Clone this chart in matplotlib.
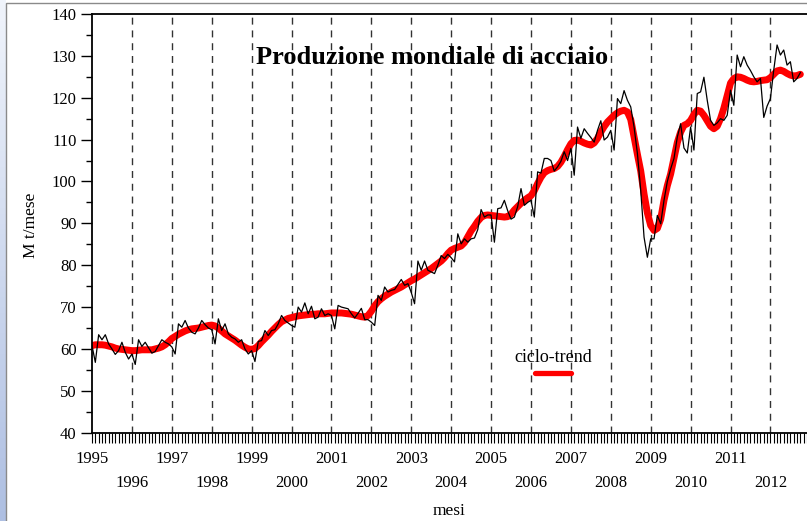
import numpy as np
import matplotlib
matplotlib.use("Agg")
from matplotlib import pyplot as plt
from matplotlib.patches import Rectangle

plt.rcParams['font.family'] = ['Liberation Serif', 'DejaVu Serif']

## Data ##
# monthly world steel output, Mt/month, from Jan 1995
START_YEAR = 1995
raw = [
    60.8, 56.8, 63.4, 62.2, 63.4, 61.2, 60.0, 58.7, 59.6, 61.6, 59.2, 57.6,   # 1995
    58.8, 56.3, 62.2, 60.6, 61.6, 60.3, 59.0, 59.4, 60.8, 62.2, 61.6, 61.2,   # 1996
    60.5, 58.8, 66.0, 65.2, 66.8, 65.0, 64.0, 63.6, 65.0, 66.8, 65.8, 65.0,   # 1997
    64.6, 61.2, 67.2, 64.4, 66.0, 63.6, 62.8, 62.4, 61.6, 62.2, 60.0, 58.8,   # 1998
    59.6, 57.0, 61.8, 62.0, 64.4, 63.2, 64.4, 64.6, 66.0, 68.0, 66.8, 66.2,   # 1999
    65.6, 65.2, 70.0, 68.8, 71.0, 68.4, 70.2, 67.2, 67.6, 69.6, 68.0, 68.4,   # 2000
    68.0, 64.8, 70.4, 70.0, 69.8, 69.6, 68.4, 67.4, 68.5, 69.7, 67.0, 67.0,   # 2001
    66.4, 65.6, 72.8, 71.6, 74.8, 73.6, 74.0, 74.2, 75.4, 76.6, 75.2, 75.6,   # 2002
    73.5, 70.8, 81.0, 78.8, 81.0, 78.8, 78.4, 78.0, 80.0, 82.3, 81.6, 82.6,   # 2003
    81.8, 80.8, 87.5, 85.1, 86.3, 85.5, 86.3, 86.5, 88.5, 93.3, 91.5, 92.0,   # 2004
    92.0, 85.5, 93.5, 93.7, 95.5, 93.0, 91.0, 91.5, 94.0, 98.3, 94.3, 95.0,   # 2005
    95.5, 91.5, 102.3, 102.0, 105.5, 105.5, 105.0, 102.5, 103.5, 104.8, 107.1, 105.0,  # 2006
    107.9, 101.5, 113.0, 110.3, 112.6, 111.5, 110.5, 109.4, 112.2, 114.5, 109.9, 110.6,  # 2007
    112.2, 107.5, 119.8, 118.6, 121.7, 119.4, 117.8, 113.0, 106.7, 97.9, 86.7, 81.9,   # 2008
    86.3, 86.3, 91.9, 89.9, 95.5, 100.0, 103.0, 105.5, 110.6, 113.8, 108.0, 106.8,    # 2009
    113.0, 107.5, 121.0, 121.4, 124.9, 119.4, 114.6, 113.4, 114.0, 115.0, 114.6, 115.8,  # 2010
    121.8, 118.2, 130.2, 127.4, 129.8, 127.8, 126.5, 125.0, 123.8, 124.6, 115.3, 118.0,  # 2011
    119.8, 126.6, 132.6, 130.2, 131.4, 127.8, 128.6, 123.8, 124.6, 126.0,              # 2012
]
trend = [
    60.8, 61.0, 61.0, 61.0, 60.9, 60.7, 60.5, 60.2, 60.0, 59.9, 59.8, 59.7,   # 1995
    59.6, 59.6, 59.7, 59.8, 59.8, 59.8, 59.8, 60.0, 60.2, 60.5, 61.0, 61.7,   # 1996
    62.5, 63.0, 63.5, 63.9, 64.3, 64.6, 64.8, 64.9, 65.0, 65.2, 65.4, 65.6,   # 1997
    65.7, 65.5, 65.0, 64.3, 63.6, 63.1, 62.6, 62.1, 61.5, 60.9, 60.4, 60.0,   # 1998
    59.9, 60.1, 60.8, 61.7, 62.5, 63.3, 64.2, 65.0, 65.8, 66.5, 66.9, 67.3,   # 1999
    67.5, 67.7, 67.9, 68.0, 68.1, 68.2, 68.3, 68.3, 68.4, 68.4, 68.4, 68.5,   # 2000
    68.6, 68.6, 68.6, 68.6, 68.5, 68.4, 68.3, 68.1, 67.9, 67.7, 67.6, 68.0,   # 2001
    69.0, 70.3, 71.3, 72.0, 72.6, 73.1, 73.6, 74.0, 74.4, 74.8, 75.3, 75.8,   # 2002
    76.3, 76.7, 77.2, 77.7, 78.2, 78.7, 79.2, 79.8, 80.4, 81.0, 81.8, 82.8,   # 2003
    83.6, 84.0, 84.3, 84.6, 85.4, 86.8, 88.2, 89.3, 90.5, 91.4, 91.9, 92.0,   # 2004
    91.9, 91.8, 91.7, 91.6, 91.5, 91.6, 92.2, 93.2, 94.0, 94.8, 95.5, 96.1,   # 2005
    96.6, 97.8, 99.5, 101.0, 102.1, 102.6, 102.9, 103.1, 103.6, 104.6, 106.0, 107.6,  # 2006
    109.0, 109.8, 109.9, 109.6, 109.2, 108.9, 108.7, 109.2, 110.3, 111.8, 113.1, 114.2,  # 2007
    115.0, 115.8, 116.4, 116.8, 117.0, 116.6, 114.8, 110.6, 106.5, 102.5, 97.0, 92.5,   # 2008
    89.5, 88.3, 88.8, 91.0, 95.5, 99.0, 101.8, 105.5, 109.3, 111.8, 113.4, 113.8,     # 2009
    114.6, 116.0, 117.0, 116.8, 115.8, 114.5, 113.2, 112.6, 113.2, 115.0, 117.5, 120.5,  # 2010
    123.5, 124.6, 125.0, 124.9, 124.6, 124.2, 123.9, 123.8, 123.9, 124.1, 124.2, 124.3,  # 2011
    124.8, 125.6, 126.4, 126.6, 126.3, 125.8, 125.4, 125.2, 125.3, 125.6,              # 2012
]
years = list(range(1995, 2013))
year_labels = [str(y) if y % 2 else "\n" + str(y) for y in years]

## Plot ##
W, H = 807, 521
fig = plt.figure(figsize=(W / 100, H / 100), dpi=100)

# left gradient strip + frame like the original slide
strip = fig.add_axes([0, 0, 6 / W, 1])
strip.imshow(np.linspace(0, 1, 100).reshape(-1, 1), aspect="auto",
             cmap=matplotlib.colors.LinearSegmentedColormap.from_list("s", ["#f0f4fb", "#aebfe2"]))
strip.axis("off")
fig.add_artist(Rectangle((6 / W, -0.01), 1.0, 1.01 - 3 / H, transform=fig.transFigure,
                         fill=False, edgecolor="#8a8a8a", lw=1))

ax = fig.add_axes([92 / W, 1 - 432.7 / H, 715 / W, 418.7 / H])
x = START_YEAR + np.arange(len(raw)) / 12.0

for y in years[1:]:
    ax.axvline(y, color="#333333", lw=1.0, ls=(0, (5, 4.2)), zorder=1)

red, = ax.plot(x[:len(trend)], trend, color="#ff0000", lw=5, solid_capstyle="round", zorder=2)
ax.plot(x, raw, color="black", lw=0.9, zorder=3)

ax.set_xlim(1995, 2012.875)
ax.set_ylim(40, 140)
ax.spines["right"].set_visible(False)
for s in ["top", "left", "bottom"]:
    ax.spines[s].set_linewidth(1.3)

ax.set_yticks(np.arange(40, 141, 10))
ax.set_yticks(np.arange(45, 140, 10), minor=True)
ax.tick_params(axis="y", which="major", direction="out", length=8, width=1, labelsize=12, pad=3)
ax.tick_params(axis="y", which="minor", direction="out", length=4.3, width=1)

ax.set_xticks(years, year_labels)
ax.set_xticks(START_YEAR + np.arange(0, 216) / 12.0, minor=True)
ax.tick_params(axis="x", which="both", direction="out", length=7, width=0.8, labelsize=12, pad=6.5)
for lbl in ax.get_xticklabels():
    lbl.set_linespacing(1.6)

ax.text(0.4755, 0.897, "Produzione mondiale di acciaio", transform=ax.transAxes,
        ha="center", va="center", fontsize=19, fontweight="bold")

ax.set_ylabel("M t/mese", fontsize=12.5)
ax.yaxis.set_label_coords(-0.074, 0.496)
ax.set_xlabel("mesi", fontsize=12.5)
ax.xaxis.set_label_coords(0.499, -0.168)

leg = ax.legend([red], [""], title="ciclo-trend", loc="center", bbox_to_anchor=(0.645, 0.155),
                frameon=False, handlelength=2.6, handleheight=2.0, handletextpad=0,
                title_fontsize=13, borderpad=0, labelspacing=0)
leg.get_lines()[0].set_linewidth(3.8)

fig.savefig("out.png", dpi=100)
